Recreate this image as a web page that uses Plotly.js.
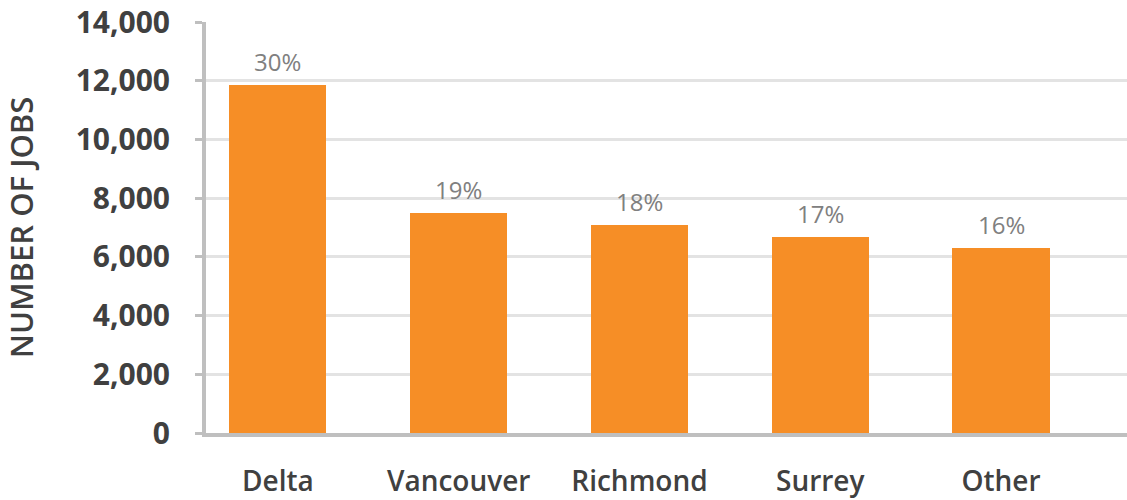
<!DOCTYPE html>
<html>
<head>
<meta charset="utf-8">
<script src="https://cdn.plot.ly/plotly-3.0.1.min.js"></script>
<style>html,body{margin:0;padding:0;background:#fff;}#chart{width:1127px;height:500px;}</style>
</head>
<body>
<div id="chart"></div>
<script>
const categories = ["Delta", "Vancouver", "Richmond", "Surrey", "Other"];
const jobs = [11850, 7500, 7070, 6670, 6290];
const shareLabels = ["30%", "19%", "18%", "17%", "16%"];
const yTickValues = [0, 2000, 4000, 6000, 8000, 10000, 12000, 14000];
const yTickLabels = ["0", "2,000", "4,000", "6,000", "8,000", "10,000", "12,000", "14,000"];

const FONT = "Open Sans, sans-serif";
const idx = categories.map((c, i) => i);

const trace = {
  type: "bar",
  x: idx,
  y: jobs,
  width: 0.537,
  marker: {color: "#F68E26", line: {width: 0}},
  hoverinfo: "skip"
};

const annotations = idx.map((i) => ({
  x: i, y: jobs[i], xref: "x", yref: "y",
  text: shareLabels[i], showarrow: false,
  yanchor: "bottom", yshift: 5,
  font: {family: FONT, size: 24, color: "#808080"}
}));

const layout = {
  width: 1127, height: 500,
  margin: {l: 206, r: 0, t: 22, b: 67, autoexpand: false},
  paper_bgcolor: "#ffffff", plot_bgcolor: "#ffffff",
  showlegend: false,
  bargap: 0,
  xaxis: {
    range: [-0.398, 4.697],
    tickmode: "array", tickvals: idx, ticktext: categories,
    showgrid: false, zeroline: false,
    showline: true, linecolor: "#bfbfbf", linewidth: 4,
    ticks: "", ticklabelstandoff: 20,
    tickfont: {family: FONT, size: 28, color: "#404040", weight: 600},
    fixedrange: true
  },
  yaxis: {
    range: [0, 14000],
    tickmode: "array", tickvals: yTickValues, ticktext: yTickLabels,
    showgrid: true, gridcolor: "#e3e3e3", gridwidth: 3,
    zeroline: false,
    showline: true, linecolor: "#bfbfbf", linewidth: 4,
    ticks: "outside", ticklen: 7, tickwidth: 3, tickcolor: "#bfbfbf",
    ticklabelstandoff: 19,
    tickfont: {family: FONT, size: 30, color: "#404040", weight: 700},
    title: {text: "NUMBER OF JOBS", standoff: 38,
            font: {family: FONT, size: 31, color: "#404040", weight: 600}},
    fixedrange: true
  },
  annotations: annotations
};

Plotly.newPlot("chart", [trace], layout, {displayModeBar: false, staticPlot: true});
</script>
</body>
</html>
